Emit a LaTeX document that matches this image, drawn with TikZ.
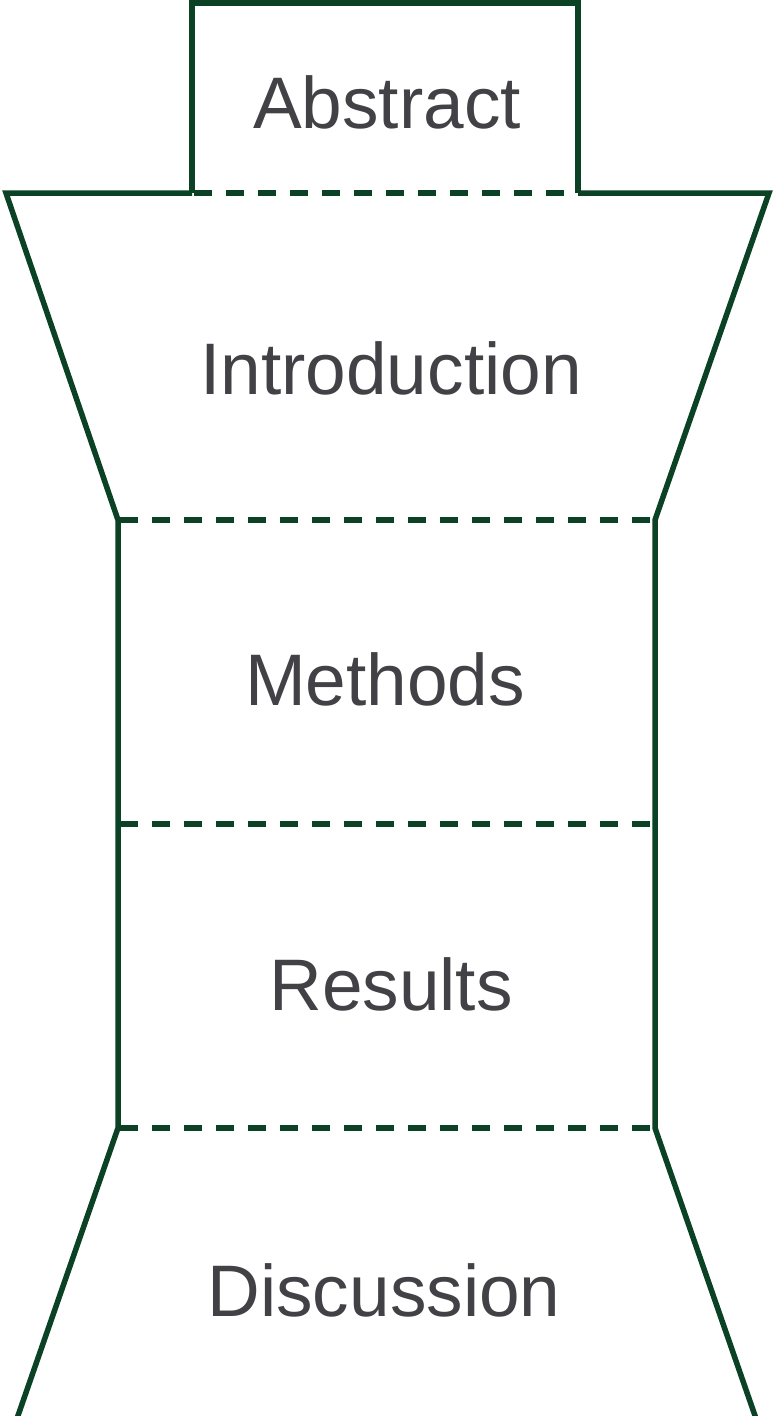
\documentclass[tikz,border=0pt]{standalone}
\usepackage{fontspec}
\setmainfont{Liberation Sans}
\definecolor{edgegreen}{HTML}{0B4226}
\definecolor{labelgray}{HTML}{414146}
\begin{document}
\begin{tikzpicture}[x=1pt,y=-1pt,
  outline/.style={draw=edgegreen,line width=5.5pt,line join=miter},
  divider/.style={draw=edgegreen,line width=5.5pt,dash pattern=on 18pt off 14pt},
  label/.style={font=\fontsize{73}{86}\selectfont,text=labelgray,inner sep=0pt}]
\useasboundingbox (0,0) rectangle (773,1416);
\clip (0,0) rectangle (773,1416);
% Abstract box
\draw[outline] (192,193) -- (192,3) -- (578,3) -- (578,193);
% Introduction trapezoid sides and top edges
\draw[outline] (192,193) -- (6,193) -- (118,520) -- (118,1128) -- (13,1430);
\draw[outline] (578,193) -- (769,193) -- (655,520) -- (655,1128) -- (760,1430);
% dashed separators
\draw[divider] (194,193) -- (576,193);
\draw[divider] (120,520) -- (653,520);
\draw[divider] (120,824) -- (653,824);
\draw[divider] (120,1128) -- (653,1128);
% labels
\node[label] (abstract) at (387,102) {Abstract};
\node[label] (intro) at (391,368) {Introduction};
\node[label] (methods) at (385,679) {Methods};
\node[label] (results) at (391,984) {Results};
\node[label] (discussion) at (384,1290) {Discussion};
\end{tikzpicture}
\end{document}
